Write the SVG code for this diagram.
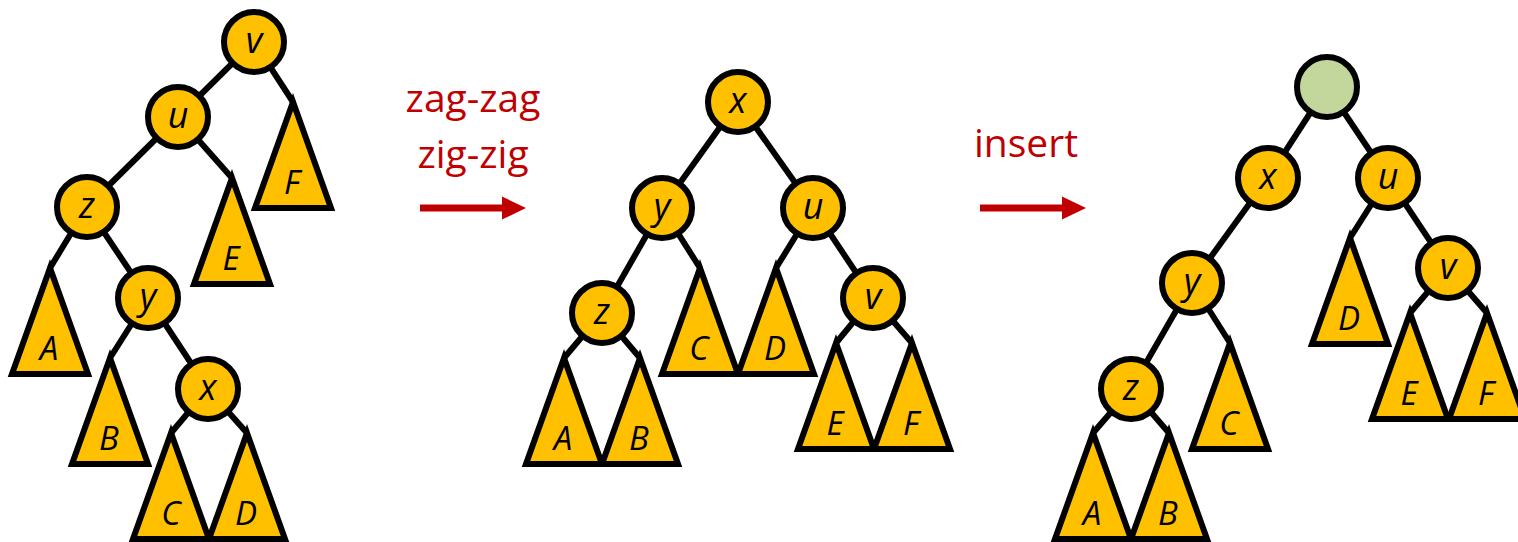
<svg xmlns="http://www.w3.org/2000/svg" width="1518" height="542" viewBox="0 0 1518 542">
<style>
.n{fill:#FFC000;stroke:#000;stroke-width:6}
.g{fill:#C3D69B;stroke:#000;stroke-width:6}
.t{fill:#FFC000;stroke:#000;stroke-width:6;stroke-linejoin:miter}
.e{stroke:#000;stroke-width:6;fill:none}
.nl{font-family:"Open Sans","Liberation Sans",sans-serif;font-style:italic;font-size:36px;text-anchor:middle;fill:#000}
.tl{font-family:"Open Sans","Liberation Sans",sans-serif;font-style:italic;font-size:33px;text-anchor:middle;fill:#000}
.op{font-family:"Open Sans","Liberation Sans",sans-serif;font-size:39px;text-anchor:middle;fill:#C00000}
.ar{stroke:#C00000;stroke-width:7;fill:none}
.ah{fill:#C00000}
</style>

<!-- connectors -->
<g id="connectors">
  <!-- tree 1 -->
  <line class="e" x1="254" y1="42" x2="178" y2="117"/>
  <line class="e" x1="254" y1="42" x2="293" y2="102"/>
  <line class="e" x1="178" y1="117" x2="87" y2="207"/>
  <line class="e" x1="178" y1="117" x2="232" y2="178"/>
  <line class="e" x1="87" y1="207" x2="50" y2="268"/>
  <line class="e" x1="87" y1="207" x2="148" y2="298"/>
  <line class="e" x1="148" y1="298" x2="110" y2="358"/>
  <line class="e" x1="148" y1="298" x2="208" y2="389"/>
  <line class="e" x1="208" y1="389" x2="171" y2="433"/>
  <line class="e" x1="208" y1="389" x2="247" y2="433"/>
  <!-- tree 2 -->
  <line class="e" x1="738" y1="102" x2="662" y2="208"/>
  <line class="e" x1="738" y1="102" x2="813" y2="208"/>
  <line class="e" x1="662" y1="208" x2="602" y2="313"/>
  <line class="e" x1="662" y1="208" x2="700" y2="268"/>
  <line class="e" x1="813" y1="208" x2="776" y2="268"/>
  <line class="e" x1="813" y1="208" x2="873" y2="298"/>
  <line class="e" x1="602" y1="313" x2="564" y2="358"/>
  <line class="e" x1="602" y1="313" x2="640" y2="358"/>
  <line class="e" x1="873" y1="298" x2="836" y2="343"/>
  <line class="e" x1="873" y1="298" x2="912" y2="343"/>
  <!-- tree 3 -->
  <line class="e" x1="1327" y1="87" x2="1268" y2="178"/>
  <line class="e" x1="1327" y1="87" x2="1388" y2="178"/>
  <line class="e" x1="1268" y1="178" x2="1192" y2="283"/>
  <line class="e" x1="1192" y1="283" x2="1131" y2="389"/>
  <line class="e" x1="1192" y1="283" x2="1230" y2="343"/>
  <line class="e" x1="1388" y1="178" x2="1350" y2="238"/>
  <line class="e" x1="1388" y1="178" x2="1448" y2="268"/>
  <line class="e" x1="1131" y1="389" x2="1093" y2="433"/>
  <line class="e" x1="1131" y1="389" x2="1169" y2="433"/>
  <line class="e" x1="1448" y1="268" x2="1410" y2="313"/>
  <line class="e" x1="1448" y1="268" x2="1487" y2="313"/>
  <!-- operation arrows -->
  <line class="ar" x1="420" y1="208" x2="504" y2="208"/>
  <polygon class="ah" points="502,196.5 526,208 502,219.5"/>
  <line class="ar" x1="980" y1="208" x2="1064" y2="208"/>
  <polygon class="ah" points="1062,196.5 1086,208 1062,219.5"/>
</g>

<!-- operation labels -->
<g id="op-splay">
  <text class="op" x="473" y="112">zag-zag</text>
  <text class="op" x="473" y="168">zig-zig</text>
</g>
<g id="op-insert">
  <text class="op" x="1026" y="157">insert</text>
</g>

<!-- tree 1 -->
<g id="t1-F"><polygon class="t" points="293,102 255,208 331,208"/><text class="tl" x="292" y="194">F</text></g>
<g id="t1-E"><polygon class="t" points="232,178 194,284 270,284"/><text class="tl" x="231" y="270">E</text></g>
<g id="t1-A"><polygon class="t" points="50,268 12,374 88,374"/><text class="tl" x="49" y="360">A</text></g>
<g id="t1-B"><polygon class="t" points="110,358 72,464 148,464"/><text class="tl" x="109" y="450">B</text></g>
<g id="t1-C"><polygon class="t" points="171,433 133,539 209,539"/><text class="tl" x="171" y="525">C</text></g>
<g id="t1-D"><polygon class="t" points="247,433 209,539 285,539"/><text class="tl" x="246" y="525">D</text></g>
<g id="t1-v"><circle class="n" cx="254" cy="42" r="30"/><text class="nl" x="254" y="53">v</text></g>
<g id="t1-u"><circle class="n" cx="178" cy="117" r="30"/><text class="nl" x="178" y="128">u</text></g>
<g id="t1-z"><circle class="n" cx="87" cy="207" r="30"/><text class="nl" x="87" y="218">z</text></g>
<g id="t1-y"><circle class="n" cx="148" cy="298" r="30"/><text class="nl" x="148" y="309">y</text></g>
<g id="t1-x"><circle class="n" cx="208" cy="389" r="30"/><text class="nl" x="208" y="400">x</text></g>

<!-- tree 2 -->
<g id="t2-A"><polygon class="t" points="564,358 526,464 602,464"/><text class="tl" x="563" y="450">A</text></g>
<g id="t2-B"><polygon class="t" points="640,358 602,464 678,464"/><text class="tl" x="639" y="450">B</text></g>
<g id="t2-C"><polygon class="t" points="700,268 662,374 738,374"/><text class="tl" x="699" y="360">C</text></g>
<g id="t2-D"><polygon class="t" points="776,268 738,374 814,374"/><text class="tl" x="775" y="360">D</text></g>
<g id="t2-E"><polygon class="t" points="836,343 798,449 874,449"/><text class="tl" x="835" y="435">E</text></g>
<g id="t2-F"><polygon class="t" points="912,343 874,449 950,449"/><text class="tl" x="911" y="435">F</text></g>
<g id="t2-x"><circle class="n" cx="738" cy="102" r="30"/><text class="nl" x="738" y="113">x</text></g>
<g id="t2-y"><circle class="n" cx="662" cy="208" r="30"/><text class="nl" x="662" y="219">y</text></g>
<g id="t2-u"><circle class="n" cx="813" cy="208" r="30"/><text class="nl" x="813" y="219">u</text></g>
<g id="t2-z"><circle class="n" cx="602" cy="313" r="30"/><text class="nl" x="602" y="324">z</text></g>
<g id="t2-v"><circle class="n" cx="873" cy="298" r="30"/><text class="nl" x="873" y="309">v</text></g>

<!-- tree 3 -->
<g id="t3-A"><polygon class="t" points="1093,433 1055,539 1131,539"/><text class="tl" x="1092" y="525">A</text></g>
<g id="t3-B"><polygon class="t" points="1169,433 1131,539 1207,539"/><text class="tl" x="1168" y="525">B</text></g>
<g id="t3-C"><polygon class="t" points="1230,343 1192,449 1268,449"/><text class="tl" x="1229" y="435">C</text></g>
<g id="t3-D"><polygon class="t" points="1350,238 1312,344 1388,344"/><text class="tl" x="1349" y="330">D</text></g>
<g id="t3-E"><polygon class="t" points="1410,313 1372,419 1448,419"/><text class="tl" x="1409" y="405">E</text></g>
<g id="t3-F"><polygon class="t" points="1487,313 1449,419 1525,419"/><text class="tl" x="1486" y="405">F</text></g>
<g id="t3-root"><circle class="g" cx="1327" cy="87" r="30"/></g>
<g id="t3-x"><circle class="n" cx="1268" cy="178" r="30"/><text class="nl" x="1268" y="189">x</text></g>
<g id="t3-u"><circle class="n" cx="1388" cy="178" r="30"/><text class="nl" x="1388" y="189">u</text></g>
<g id="t3-y"><circle class="n" cx="1192" cy="283" r="30"/><text class="nl" x="1192" y="294">y</text></g>
<g id="t3-z"><circle class="n" cx="1131" cy="389" r="30"/><text class="nl" x="1131" y="400">z</text></g>
<g id="t3-v"><circle class="n" cx="1448" cy="268" r="30"/><text class="nl" x="1448" y="279">v</text></g>
</svg>
